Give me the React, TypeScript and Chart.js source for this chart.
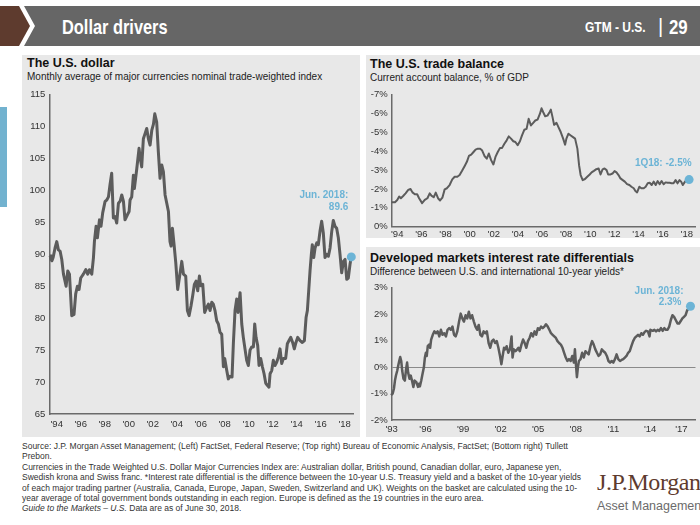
import React, { useEffect, useRef } from "react";
import { Chart, registerables } from "chart.js";
Chart.register(...registerables);

const FONT = '"Liberation Sans", Arial, Helvetica, sans-serif';
const LINE = "#5c5c5c";
const BLUE = "#6cb4d6";
const PANEL = "#e8e8e8";
const AXIS = "#6a6a6a";

// ---------- The U.S. dollar ----------
const dollarDates = [
  1993.45, 1993.52, 1993.6, 1993.7, 1993.86, 1994.0, 1994.14, 1994.28, 1994.42, 1994.56,
  1994.69, 1994.78, 1994.92, 1995.06, 1995.25, 1995.44, 1995.58, 1995.72, 1995.86, 1996.0,
  1996.22, 1996.42, 1996.58, 1996.72, 1996.92, 1997.06, 1997.14, 1997.28, 1997.39, 1997.56,
  1997.69, 1997.83, 1998.03, 1998.17, 1998.31, 1998.44, 1998.58, 1998.72, 1998.86, 1999.0,
  1999.14, 1999.28, 1999.42, 1999.56, 1999.69, 1999.89, 2000.03, 2000.11, 2000.25, 2000.39,
  2000.47, 2000.67, 2000.86, 2000.94, 2001.08, 2001.22, 2001.36, 2001.5, 2001.64, 2001.78,
  2001.92, 2002.06, 2002.17, 2002.33, 2002.47, 2002.61, 2002.75, 2002.89, 2003.03, 2003.17,
  2003.31, 2003.44, 2003.53, 2003.64, 2003.78, 2003.92, 2004.08, 2004.22, 2004.42, 2004.56,
  2004.75, 2004.89, 2005.03, 2005.19, 2005.33, 2005.47, 2005.61, 2005.75, 2005.89, 2006.0,
  2006.17, 2006.33, 2006.5, 2006.64, 2006.78, 2006.92, 2007.05, 2007.19, 2007.33, 2007.47,
  2007.61, 2007.75, 2007.89, 2008.0, 2008.17, 2008.3, 2008.44, 2008.61, 2008.72, 2008.86,
  2009.0, 2009.11, 2009.28, 2009.42, 2009.55, 2009.69, 2009.83, 2009.97, 2010.11, 2010.25,
  2010.39, 2010.5, 2010.61, 2010.75, 2010.86, 2011.0, 2011.14, 2011.28, 2011.42, 2011.55,
  2011.69, 2011.78, 2011.92, 2012.05, 2012.19, 2012.33, 2012.47, 2012.61, 2012.75, 2012.89,
  2013.08, 2013.22, 2013.36, 2013.5, 2013.66, 2013.8, 2013.94, 2014.08, 2014.28, 2014.47,
  2014.64, 2014.78, 2014.89, 2015.0, 2015.11, 2015.22, 2015.3, 2015.42, 2015.53, 2015.67,
  2015.8, 2015.94, 2016.08, 2016.22, 2016.36, 2016.5, 2016.64, 2016.78, 2016.92, 2017.05,
  2017.19, 2017.33, 2017.47, 2017.61, 2017.75, 2017.89, 2018.03, 2018.17, 2018.3, 2018.44,
  2018.55,
];
const dollarValues = [
  89.8, 89.2, 89.0, 89.5, 91.0, 92.0, 90.7, 90.5, 89.2, 86.9,
  85.8, 85.0, 87.4, 86.9, 80.4, 80.6, 83.8, 85.0, 84.5, 86.3,
  86.9, 87.6, 86.9, 87.6, 86.9, 89.5, 92.0, 94.4, 92.6, 95.4,
  94.4, 96.5, 98.3, 98.5, 99.0, 100.9, 102.7, 95.7, 95.9, 94.9,
  98.0, 98.3, 99.3, 98.3, 95.4, 96.2, 96.7, 98.5, 99.0, 102.4,
  100.3, 103.4, 106.6, 105.3, 103.7, 108.1, 108.9, 109.7, 108.1, 107.1,
  109.4, 110.4, 112.0, 110.7, 106.0, 101.9, 104.0, 102.9, 99.3, 98.0,
  96.7, 92.0, 91.3, 94.1, 91.5, 88.7, 84.5, 86.3, 88.9, 86.9,
  86.6, 81.2, 80.4, 81.9, 83.5, 85.3, 85.8, 84.3, 86.6, 85.1,
  85.3, 80.9, 81.7, 82.2, 81.2, 82.5, 82.2, 81.2, 79.6, 79.1,
  77.8, 77.5, 72.4, 73.7, 71.8, 70.5, 70.9, 70.8, 76.0, 81.2,
  83.0, 80.9, 84.0, 79.1, 77.0, 75.2, 73.4, 72.6, 75.0, 75.5,
  75.5, 79.1, 77.0, 75.7, 72.6, 73.7, 72.4, 71.3, 69.8, 69.5,
  69.2, 71.3, 71.8, 73.4, 72.6, 73.1, 73.9, 75.2, 72.9, 73.7,
  73.7, 76.0, 76.5, 77.0, 76.2, 75.2, 76.2, 77.0, 76.5, 76.2,
  76.5, 80.1, 81.2, 84.3, 87.4, 90.0, 91.5, 89.5, 91.0, 91.8,
  91.5, 93.6, 95.2, 93.3, 89.5, 90.0, 89.7, 91.0, 93.6, 95.3,
  94.4, 94.1, 92.6, 90.0, 87.1, 88.9, 89.2, 86.1, 86.3, 88.4,
  89.6,
];
const dollarTicks = [1994, 1996, 1998, 2000, 2002, 2004, 2006, 2008, 2010, 2012, 2014, 2016, 2018];
const dollarTickLabels = ["'94", "'96", "'98", "'00", "'02", "'04", "'06", "'08", "'10", "'12", "'14", "'16", "'18"];

// ---------- The U.S. trade balance ----------
const tradeDates = [
  1993.53, 1993.81, 1994.0, 1994.16, 1994.3, 1994.49, 1994.69, 1994.91, 1995.1, 1995.26,
  1995.46, 1995.65, 1995.81, 1996.06, 1996.28, 1996.5, 1996.69, 1996.83, 1997.02, 1997.19,
  1997.38, 1997.55, 1997.74, 1997.93, 1998.12, 1998.34, 1998.56, 1998.76, 1998.98, 1999.17,
  1999.36, 1999.58, 1999.77, 1999.94, 2000.13, 2000.32, 2000.49, 2000.68, 2000.87, 2001.04,
  2001.23, 2001.42, 2001.59, 2001.78, 2001.97, 2002.14, 2002.33, 2002.52, 2002.69, 2002.88,
  2003.07, 2003.24, 2003.43, 2003.62, 2003.79, 2003.98, 2004.17, 2004.34, 2004.53, 2004.72,
  2004.89, 2005.08, 2005.27, 2005.44, 2005.63, 2005.82, 2005.96, 2006.1, 2006.26, 2006.45,
  2006.62, 2006.73, 2006.87, 2007.0, 2007.2, 2007.36, 2007.55, 2007.75, 2007.91, 2008.02,
  2008.19, 2008.38, 2008.57, 2008.74, 2008.93, 2009.07, 2009.2, 2009.37, 2009.56, 2009.75,
  2009.95, 2010.11, 2010.3, 2010.5, 2010.69, 2010.85, 2011.02, 2011.18, 2011.35, 2011.48,
  2011.68, 2011.84, 2012.01, 2012.17, 2012.34, 2012.5, 2012.69, 2012.86, 2013.05, 2013.24,
  2013.41, 2013.6, 2013.74, 2013.88, 2014.07, 2014.23, 2014.43, 2014.59, 2014.76, 2014.92,
  2015.09, 2015.25, 2015.42, 2015.58, 2015.75, 2015.91, 2016.08, 2016.24, 2016.41, 2016.57,
  2016.74, 2016.9, 2017.07, 2017.23, 2017.4, 2017.53, 2017.67, 2017.81, 2017.95, 2018.19,
];
const tradeValues = [
  -1.3, -1.3, -1.42, -1.6, -1.51, -1.63, -1.77, -1.95, -2.0, -1.82,
  -1.72, -1.72, -1.51, -1.25, -1.42, -1.51, -1.77, -1.65, -1.56, -1.81,
  -1.51, -1.39, -1.54, -1.98, -2.04, -2.21, -2.51, -2.65, -2.65, -2.74,
  -2.95, -3.21, -3.44, -3.75, -3.82, -3.96, -4.09, -4.14, -4.14, -4.04,
  -3.75, -3.61, -3.88, -3.53, -3.3, -3.7, -3.96, -4.18, -4.18, -4.4,
  -4.58, -4.79, -4.67, -4.53, -4.49, -4.32, -4.53, -4.84, -5.14, -5.19,
  -5.72, -5.37, -5.51, -5.63, -5.68, -5.98, -6.28, -6.07, -5.86, -5.89,
  -6.07, -6.21, -5.81, -5.4, -5.51, -5.28, -5.02, -4.67, -4.35, -4.67,
  -4.93, -4.84, -4.75, -4.67, -4.14, -3.26, -2.74, -2.47, -2.53, -2.65,
  -2.77, -2.88, -2.96, -3.05, -3.09, -2.77, -3.04, -3.09, -3.0, -2.77,
  -2.77, -2.82, -2.95, -2.88, -2.74, -2.56, -2.47, -2.39, -2.26, -2.21,
  -2.12, -2.04, -1.89, -1.82, -2.12, -2.04, -2.04, -2.12, -2.3, -2.33,
  -2.21, -2.39, -2.21, -2.42, -2.25, -2.42, -2.25, -2.35, -2.33, -2.33,
  -2.3, -2.3, -2.47, -2.3, -2.47, -2.39, -2.21, -2.35, -2.47, -2.5,
];
const tradeTicks = [1994, 1996, 1998, 2000, 2002, 2004, 2006, 2008, 2010, 2012, 2014, 2016, 2018];
const tradeTickLabels = ["'94", "'96", "'98", "'00", "'02", "'04", "'06", "'08", "'10", "'12", "'14", "'16", "'18"];

// ---------- Interest rate differentials ----------
const rateDates = [
  1993.25, 1993.38, 1993.48, 1993.56, 1993.64, 1993.74, 1993.82, 1993.9, 1993.98, 1994.06,
  1994.14, 1994.24, 1994.35, 1994.45, 1994.53, 1994.61, 1994.72, 1994.82, 1994.92, 1995.03,
  1995.13, 1995.27, 1995.4, 1995.48, 1995.55, 1995.66, 1995.76, 1995.87, 1995.95, 1996.03,
  1996.1, 1996.18, 1996.29, 1996.37, 1996.45, 1996.58, 1996.71, 1996.84, 1996.97, 1997.1,
  1997.23, 1997.36, 1997.49, 1997.63, 1997.76, 1997.89, 1998.02, 1998.15, 1998.28, 1998.41,
  1998.54, 1998.68, 1998.81, 1998.94, 1999.07, 1999.2, 1999.33, 1999.46, 1999.59, 1999.72,
  1999.86, 1999.99, 2000.12, 2000.25, 2000.38, 2000.51, 2000.64, 2000.77, 2000.9, 2001.04,
  2001.17, 2001.3, 2001.43, 2001.56, 2001.69, 2001.82, 2001.95, 2002.06, 2002.16, 2002.27,
  2002.37, 2002.48, 2002.61, 2002.74, 2002.87, 2002.95, 2003.05, 2003.19, 2003.32, 2003.42,
  2003.53, 2003.66, 2003.79, 2003.92, 2004.05, 2004.18, 2004.31, 2004.44, 2004.58, 2004.71,
  2004.84, 2004.97, 2005.1, 2005.23, 2005.36, 2005.49, 2005.62, 2005.76, 2005.89, 2006.02,
  2006.15, 2006.28, 2006.41, 2006.54, 2006.67, 2006.81, 2006.94, 2007.07, 2007.2, 2007.33,
  2007.46, 2007.59, 2007.72, 2007.85, 2007.93, 2008.01, 2008.09, 2008.17, 2008.25, 2008.38,
  2008.51, 2008.64, 2008.77, 2008.9, 2009.03, 2009.17, 2009.3, 2009.43, 2009.56, 2009.69,
  2009.82, 2009.95, 2010.08, 2010.21, 2010.35, 2010.48, 2010.61, 2010.74, 2010.87, 2011.0,
  2011.13, 2011.26, 2011.39, 2011.53, 2011.66, 2011.79, 2011.92, 2012.05, 2012.18, 2012.31,
  2012.44, 2012.58, 2012.71, 2012.84, 2012.97, 2013.1, 2013.23, 2013.36, 2013.49, 2013.62,
  2013.76, 2013.89, 2013.96, 2014.15, 2014.28, 2014.41, 2014.54, 2014.67, 2014.8, 2014.94,
  2015.07, 2015.2, 2015.33, 2015.46, 2015.59, 2015.72, 2015.85, 2015.98, 2016.12, 2016.25,
  2016.38, 2016.51, 2016.64, 2016.77, 2016.9, 2017.03, 2017.16,
];
const rateValues = [
  -1.06, -1.0, -0.81, -0.51, -0.32, -0.14, 0.05, 0.23, 0.38, 0.23,
  -0.14, -0.44, -0.51, -0.07, 0.17, -0.2, -0.44, -0.32, -0.51, -0.75,
  -0.51, -0.57, -0.75, -0.63, -0.73, -0.51, -0.26, -0.01, 0.36, 0.54,
  0.42, 0.79, 0.85, 0.73, 1.04, 1.22, 1.35, 1.28, 1.35, 1.16,
  1.41, 1.22, 1.28, 1.16, 1.41, 1.47, 1.41, 1.53, 1.22, 1.16,
  1.35, 1.72, 2.02, 1.84, 1.72, 1.96, 1.84, 2.09, 1.84, 1.96,
  1.72, 1.53, 1.41, 1.59, 1.22, 1.16, 1.35, 1.28, 1.35, 0.91,
  0.73, 0.98, 1.04, 0.91, 0.98, 0.73, 0.42, 0.11, 0.42, 0.73,
  0.67, 0.79, 0.54, 0.67, 1.16, 0.36, 0.67, 0.6, 0.67, 0.73,
  0.6, 0.85, 1.04, 0.91, 0.73, 0.98, 1.1, 1.28, 1.16, 1.35,
  1.22, 1.47, 1.41, 1.53, 1.47, 1.53, 1.62, 1.53, 1.41, 1.28,
  1.22, 1.16, 1.1, 0.98, 0.91, 0.85, 0.73, 0.54, 0.36, 0.23,
  0.3, 0.23, 0.42, 0.17, 0.67, 0.11, -0.38, -0.01, 0.23, 0.3,
  0.54, 0.36, 0.6, 0.54, 0.48, 0.79, 0.98, 0.85, 0.67, 0.54,
  0.42, 0.48, 0.67, 0.6, 0.54, 0.42, 0.23, 0.17, 0.23, 0.17,
  0.3, 0.48, 0.3, 0.23, 0.27, 0.3, 0.36, 0.42, 0.54, 0.6,
  0.79, 0.98, 1.1, 1.16, 1.22, 1.16, 1.28, 1.22, 1.32, 1.37,
  1.35, 1.16, 1.41, 1.37, 1.41, 1.35, 1.41, 1.37, 1.47, 1.37,
  1.47, 1.41, 1.41, 1.53, 1.78, 1.96, 1.9, 1.78, 1.65, 1.65,
  1.74, 1.84, 1.9, 1.96, 2.15, 2.21, 2.3,
];
const rateTicks = [1993.3, 1996, 1999, 2002, 2005, 2008, 2011, 2013.94, 2016.43];
const rateTickLabels = ["'93", "'96", "'99", "'02", "'05", "'08", "'11", "'14", "'17"];

type Note = { text: string; dx: number; dy: number };
type Spec = {
  dates: number[];
  values: number[];
  xMin: number;
  xMax: number;
  xTicks: number[];
  xLabels: string[];
  yMin: number;
  yMax: number;
  yStep: number;
  yReverse?: boolean;
  ySuffix?: string;
  lineWidth: number;
  yAxisWidth: number;
  xAxisHeight: number;
  padTop: number;
  padRight: number;
  xLabelPad: number;
  zeroLine?: boolean;
  notes: Note[];
};

function makeConfig(s: Spec): any {
  const n = s.dates.length;
  const points = s.dates.map((d, i) => ({ x: d, y: s.values[i] }));
  const notePlugin = {
    id: "lastNote",
    afterDatasetsDraw(chart: any) {
      const meta = chart.getDatasetMeta(0);
      const p = meta.data[meta.data.length - 1];
      const ctx = chart.ctx;
      ctx.save();
      ctx.font = `bold 10px ${FONT}`;
      ctx.fillStyle = BLUE;
      ctx.textAlign = "right";
      ctx.textBaseline = "middle";
      s.notes.forEach((l) => ctx.fillText(l.text, p.x + l.dx, p.y + l.dy));
      ctx.restore();
    },
  };
  const tickFont = { size: 9.5, family: FONT };
  return {
    type: "line",
    data: {
      datasets: [
        {
          data: points,
          borderColor: LINE,
          borderWidth: s.lineWidth,
          borderJoinStyle: "round",
          pointRadius: (c: any) => (c.dataIndex === n - 1 ? 4.5 : 0),
          pointHoverRadius: 0,
          pointBackgroundColor: BLUE,
          pointBorderColor: BLUE,
          pointBorderWidth: 0,
          tension: 0,
          clip: false,
        },
      ],
    },
    options: {
      animation: false,
      responsive: false,
      events: [],
      layout: { padding: { top: s.padTop, right: s.padRight, left: 0, bottom: 0 } },
      plugins: { legend: { display: false }, tooltip: { enabled: false } },
      scales: {
        x: {
          type: "linear",
          min: s.xMin,
          max: s.xMax,
          afterBuildTicks: (sc: any) => {
            sc.ticks = s.xTicks.map((v) => ({ value: v }));
          },
          afterFit: (sc: any) => {
            sc.height = s.xAxisHeight;
          },
          ticks: {
            autoSkip: false,
            maxRotation: 0,
            minRotation: 0,
            padding: s.xLabelPad,
            color: "#333",
            font: tickFont,
            callback: (_v: any, i: number) => s.xLabels[i],
          },
          grid: { display: false, drawTicks: false },
          border: { display: true, color: AXIS, width: 1.5 },
        },
        y: {
          type: "linear",
          min: s.yMin,
          max: s.yMax,
          reverse: !!s.yReverse,
          afterFit: (sc: any) => {
            sc.width = s.yAxisWidth;
          },
          ticks: {
            stepSize: s.yStep,
            padding: 4,
            color: "#333",
            font: tickFont,
            callback: (v: any) => `${v}${s.ySuffix ?? ""}`,
          },
          grid: {
            display: !!s.zeroLine,
            drawTicks: false,
            lineWidth: 1,
            color: (c: any) => (c.tick && c.tick.value === 0 ? "#8a8a8a" : "rgba(0,0,0,0)"),
          },
          border: { display: true, color: AXIS, width: 1.5 },
        },
      },
    },
    plugins: [notePlugin],
  };
}

function LineChart(props: { spec: Spec; left: number; top: number; width: number; height: number }) {
  const ref = useRef<HTMLCanvasElement>(null);
  useEffect(() => {
    const chart = new Chart(ref.current as HTMLCanvasElement, makeConfig(props.spec));
    return () => chart.destroy();
  }, []);
  return (
    <canvas
      ref={ref}
      width={props.width}
      height={props.height}
      style={{ position: "absolute", left: props.left, top: props.top, width: props.width, height: props.height }}
    />
  );
}

const dollarSpec: Spec = {
  dates: dollarDates,
  values: dollarValues,
  xMin: 1993.38,
  xMax: 2018.7,
  xTicks: dollarTicks,
  xLabels: dollarTickLabels,
  yMin: 65,
  yMax: 115,
  yStep: 5,
  lineWidth: 3,
  yAxisWidth: 27.3,
  xAxisHeight: 23,
  padTop: 9,
  padRight: 6.9,
  xLabelPad: 5,
  notes: [
    { text: "Jun. 2018:", dx: -3, dy: -61.5 },
    { text: "89.6", dx: -3, dy: -50 },
  ],
};

const tradeSpec: Spec = {
  dates: tradeDates,
  values: tradeValues,
  xMin: 1993.54,
  xMax: 2018.72,
  xTicks: tradeTicks,
  xLabels: tradeTickLabels,
  yMin: -7,
  yMax: 0,
  yStep: 1,
  yReverse: true,
  ySuffix: "%",
  lineWidth: 2,
  yAxisWidth: 25.7,
  xAxisHeight: 13.3,
  padTop: 9,
  padRight: 3,
  xLabelPad: 2,
  notes: [{ text: "1Q18: -2.5%", dx: 2.5, dy: -16 }],
};

const rateSpec: Spec = {
  dates: rateDates,
  values: rateValues,
  xMin: 1993.3,
  xMax: 2017.56,
  xTicks: rateTicks,
  xLabels: rateTickLabels,
  yMin: -2,
  yMax: 3,
  yStep: 1,
  ySuffix: "%",
  lineWidth: 2.5,
  yAxisWidth: 25.7,
  xAxisHeight: 17,
  padTop: 5.3,
  padRight: 0,
  xLabelPad: 4,
  zeroLine: true,
  notes: [
    { text: "Jun. 2018:", dx: -7, dy: -15 },
    { text: "2.3%", dx: -9, dy: -3.5 },
  ],
};

const abs = (left: number, top: number, extra: React.CSSProperties = {}): React.CSSProperties => ({
  position: "absolute",
  left,
  top,
  whiteSpace: "nowrap",
  ...extra,
});

const titleStyle: React.CSSProperties = { fontSize: 12.5, fontWeight: "bold", color: "#111", lineHeight: "14px" };
const subStyle: React.CSSProperties = { fontSize: 10, color: "#222", lineHeight: "12px" };
const footStyle: React.CSSProperties = { fontSize: 8.5, color: "#333", lineHeight: "10px" };

const footLines = [
  "Source: J.P. Morgan Asset Management; (Left) FactSet, Federal Reserve; (Top right) Bureau of Economic Analysis, FactSet; (Bottom right) Tullett",
  "Prebon.",
  "Currencies in the Trade Weighted U.S. Dollar Major Currencies Index are: Australian dollar, British pound, Canadian dollar, euro, Japanese yen,",
  "Swedish krona and Swiss franc. *Interest rate differential is the difference between the 10-year U.S. Treasury yield and a basket of the 10-year yields",
  "of each major trading partner (Australia, Canada, Europe, Japan, Sweden, Switzerland and UK). Weights on the basket are calculated using the 10-",
  "year average of total government bonds outstanding in each region. Europe is defined as the 19 countries in the euro area.",
];
const footTops = [441, 451.3, 462, 472.3, 482.6, 493];

export default function App() {
  return (
    <div
      style={{
        position: "absolute",
        left: 0,
        top: 0,
        width: 700,
        height: 525,
        background: "#fff",
        overflow: "hidden",
        fontFamily: FONT,
      }}
    >
      <svg width={700} height={50} style={{ position: "absolute", left: 0, top: 0 }}>
        <polygon points="0,6 19,6 30,26 19,46 0,46" fill="#5e3b2e" />
        <polygon points="24,6 700,6 700,46 24,46 35,26" fill="#666666" />
      </svg>
      <div
        style={abs(62, 16, {
          fontSize: 21,
          lineHeight: "22px",
          color: "#fff",
          fontWeight: "bold",
          transform: "scaleX(0.78)",
          transformOrigin: "left center",
        })}
      >
        Dollar drivers
      </div>
      <div
        style={abs(585, 19, {
          fontSize: 15,
          lineHeight: "16px",
          color: "#fff",
          fontWeight: "bold",
          transform: "scaleX(0.8)",
          transformOrigin: "left center",
        })}
      >
        GTM - U.S.
      </div>
      <div style={abs(658, 15, { fontSize: 20, lineHeight: "22px", color: "#fff" })}>|</div>
      <div
        style={abs(669, 16, {
          fontSize: 21,
          lineHeight: "22px",
          color: "#fff",
          fontWeight: "bold",
          transform: "scaleX(0.8)",
          transformOrigin: "left center",
        })}
      >
        29
      </div>

      <div style={{ position: "absolute", left: 0, top: 107, width: 7, height: 100, background: "#72b2cf" }} />

      <div style={{ position: "absolute", left: 22, top: 55, width: 338, height: 382, background: PANEL }} />
      <div style={{ position: "absolute", left: 366, top: 55, width: 334, height: 183, background: PANEL }} />
      <div style={{ position: "absolute", left: 366, top: 247, width: 334, height: 190, background: PANEL }} />

      <div style={abs(27, 56, titleStyle)}>The U.S. dollar</div>
      <div style={abs(27, 71.3, subStyle)}>Monthly average of major currencies nominal trade-weighted index</div>

      <div style={abs(370, 57, titleStyle)}>The U.S. trade balance</div>
      <div style={abs(370, 72, subStyle)}>Current account balance, % of GDP</div>

      <div style={abs(370, 251, titleStyle)}>Developed markets interest rate differentials</div>
      <div style={abs(370, 265.5, subStyle)}>Difference between U.S. and international 10-year yields*</div>

      <LineChart spec={dollarSpec} left={22} top={85} width={338} height={352} />
      <LineChart spec={tradeSpec} left={366} top={85} width={334} height={155} />
      <LineChart spec={rateSpec} left={366} top={278} width={334} height={159} />

      {footLines.map((t, i) => (
        <div key={i} style={abs(22, footTops[i], footStyle)}>
          {t}
        </div>
      ))}
      <div style={abs(22, 503.3, footStyle)}>
        <i>Guide to the Markets – U.S.</i> Data are as of June 30, 2018.
      </div>

      <div
        style={abs(597, 469, {
          fontFamily: '"Liberation Serif", "Times New Roman", serif',
          fontSize: 24,
          lineHeight: "26px",
          color: "#5e3b2e",
          letterSpacing: -0.4,
        })}
      >
        J.P.Morgan
      </div>
      <div style={abs(597, 499, { fontSize: 12.5, lineHeight: "14px", color: "#6b6b6b" })}>Asset Management</div>
    </div>
  );
}
